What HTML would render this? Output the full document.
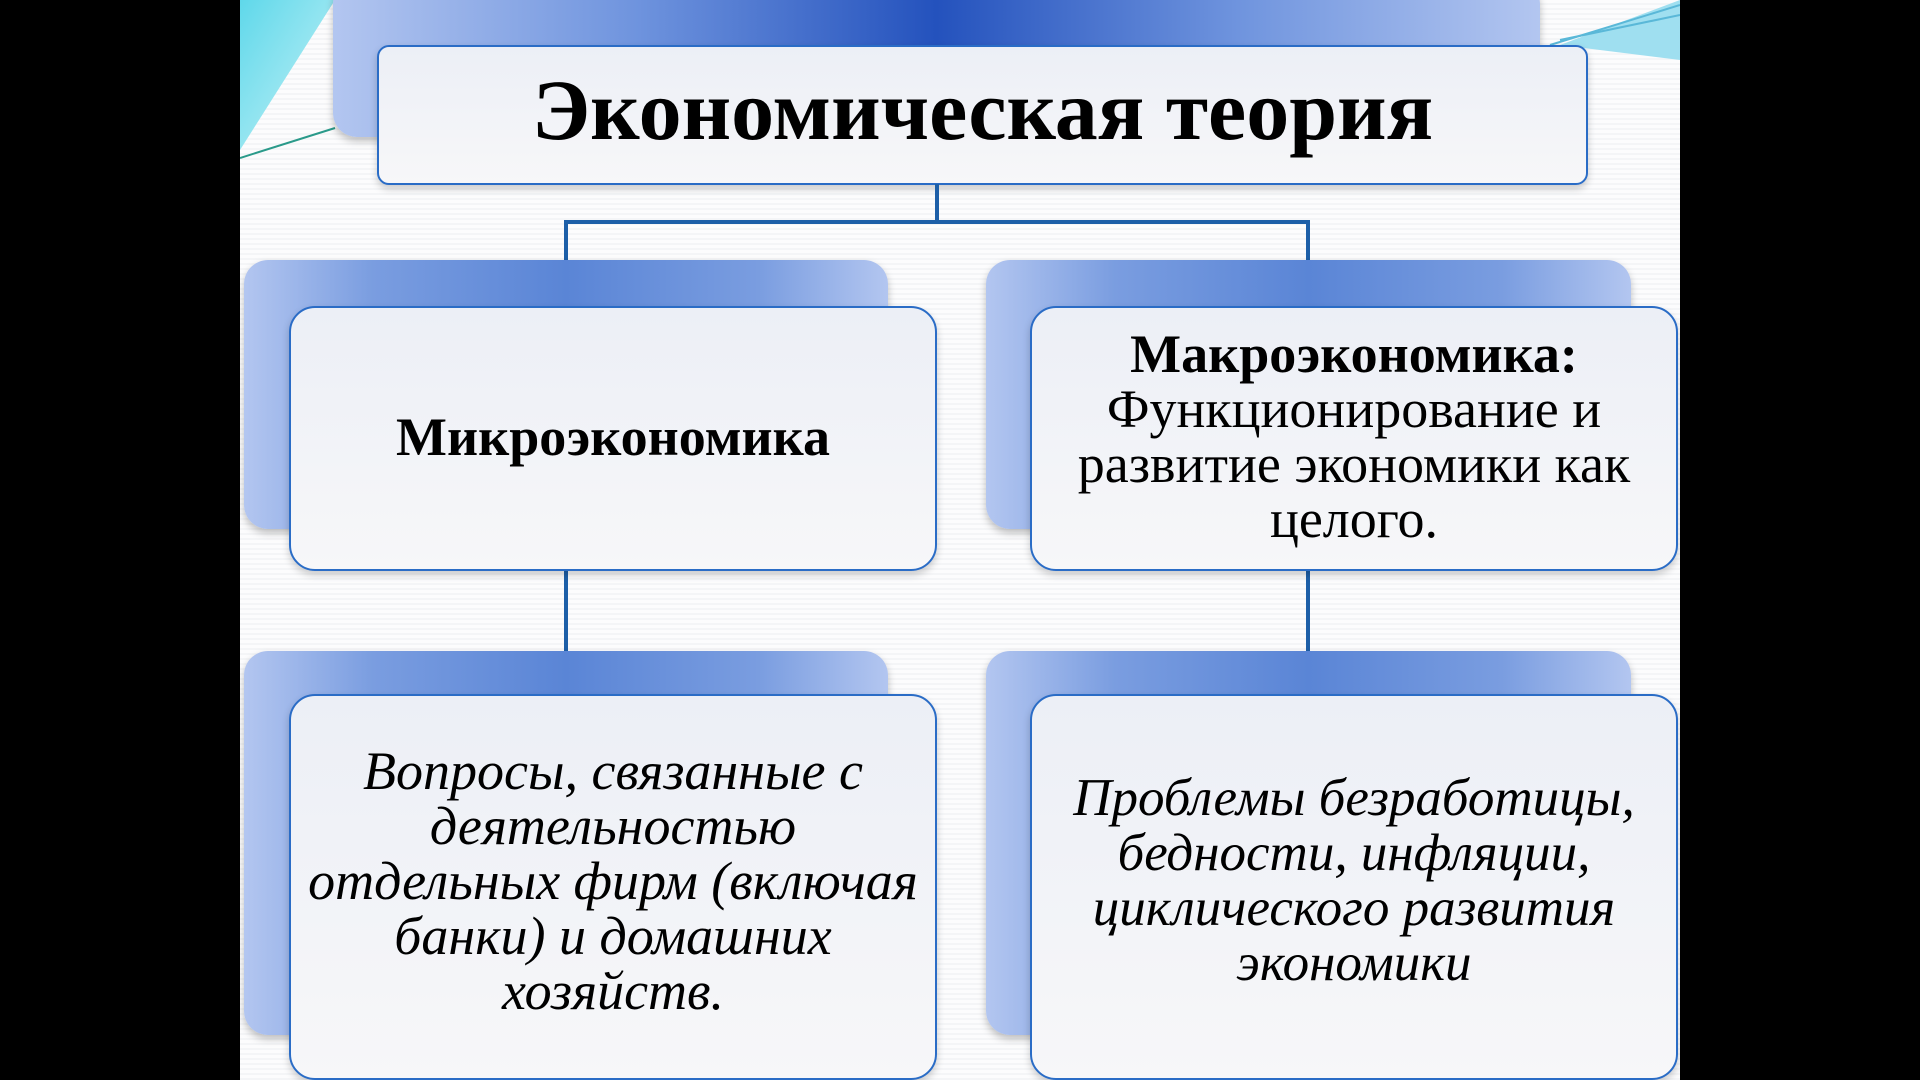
<!DOCTYPE html>
<html><head><meta charset="utf-8"><style>
html,body{margin:0;padding:0;width:1920px;height:1080px;background:#000;overflow:hidden}
.slide{position:absolute;left:240px;top:0;width:1440px;height:1080px;background:#fafbfc;overflow:hidden;
background-image:repeating-linear-gradient(0deg,#f4f5f7 0 2px,#fcfcfd 2px 5px)}
.b{position:absolute;border-radius:24px;background:linear-gradient(90deg,#b3c6f0 0%,#7a9de0 20%,#5a85d6 50%,#7a9de0 80%,#b3c6f0 100%);box-shadow:0 4px 8px rgba(0,0,0,.25)}
.f{position:absolute;border-radius:26px;border:2px solid #2a6cc6;background:linear-gradient(180deg,#eceff6,#f7f7f9);box-shadow:0 4px 8px rgba(0,0,0,.2);
display:flex;align-items:center;justify-content:center;text-align:center;font-family:"Liberation Serif",serif;color:#000;box-sizing:border-box;white-space:nowrap}
.l{position:absolute;background:#1d5fa8}
</style></head><body>
<div class="slide">
<svg width="1440" height="1080" style="position:absolute;left:0;top:0">
<defs><linearGradient id="g" x1="0" y1="0" x2="1" y2="1"><stop offset="0" stop-color="#5fd8ea"/><stop offset="1" stop-color="#c9f2f7"/></linearGradient></defs>
<polygon points="0,0 95,0 0,150" fill="url(#g)"/>
<line x1="0" y1="158" x2="95" y2="128" stroke="#2a9a8a" stroke-width="2"/>
<polygon points="1440,0 1440,60 1320,45" fill="#9fdff0"/>
<line x1="1310" y1="45" x2="1440" y2="5" stroke="#5ab8d8" stroke-width="2"/>
<line x1="1320" y1="40" x2="1440" y2="15" stroke="#5ab8d8" stroke-width="2"/>
</svg>
<div class="b" style="left:93px;top:-20px;width:1207px;height:157px;background:linear-gradient(90deg,#b3c6f0 0%,#6f94de 25%,#2452bd 50%,#6f94de 75%,#b3c6f0 100%)"></div>
<div class="f" style="left:137px;top:45px;width:1211px;height:140px;border-radius:12px;font-weight:bold;font-size:86px"><div style="margin-top:-10px">Экономическая теория</div></div>
<div class="l" style="left:695px;top:184px;width:4px;height:40px"></div>
<div class="l" style="left:324px;top:220px;width:746px;height:4px"></div>
<div class="l" style="left:324px;top:220px;width:4px;height:42px"></div>
<div class="l" style="left:1066px;top:220px;width:4px;height:42px"></div>
<div class="b" style="left:4px;top:260px;width:644px;height:269px"></div>
<div class="b" style="left:746px;top:260px;width:645px;height:269px"></div>
<div class="l" style="left:324px;top:571px;width:4px;height:82px"></div>
<div class="l" style="left:1066px;top:571px;width:4px;height:82px"></div>
<div class="f" style="left:49px;top:306px;width:648px;height:265px;font-weight:bold;font-size:54px"><div style="margin-top:-4px">Микроэкономика</div></div>
<div class="f" style="left:790px;top:306px;width:648px;height:265px;font-size:54px;line-height:55px"><div style="margin-top:-4px"><b>Макроэкономика:</b><br>Функционирование и<br>развитие экономики как<br>целого.</div></div>
<div class="b" style="left:4px;top:651px;width:644px;height:384px"></div>
<div class="b" style="left:746px;top:651px;width:645px;height:384px"></div>
<div class="f" style="left:49px;top:694px;width:648px;height:386px;font-style:italic;font-size:54px;line-height:55px"><div style="margin-top:-12px">Вопросы, связанные с<br>деятельностью<br>отдельных фирм (включая<br>банки) и домашних<br>хозяйств.</div></div>
<div class="f" style="left:790px;top:694px;width:648px;height:386px;font-style:italic;font-size:53px;line-height:55px"><div style="margin-top:-12px">Проблемы безработицы,<br>бедности, инфляции,<br>циклического развития<br>экономики</div></div>
</div>
</body></html>
